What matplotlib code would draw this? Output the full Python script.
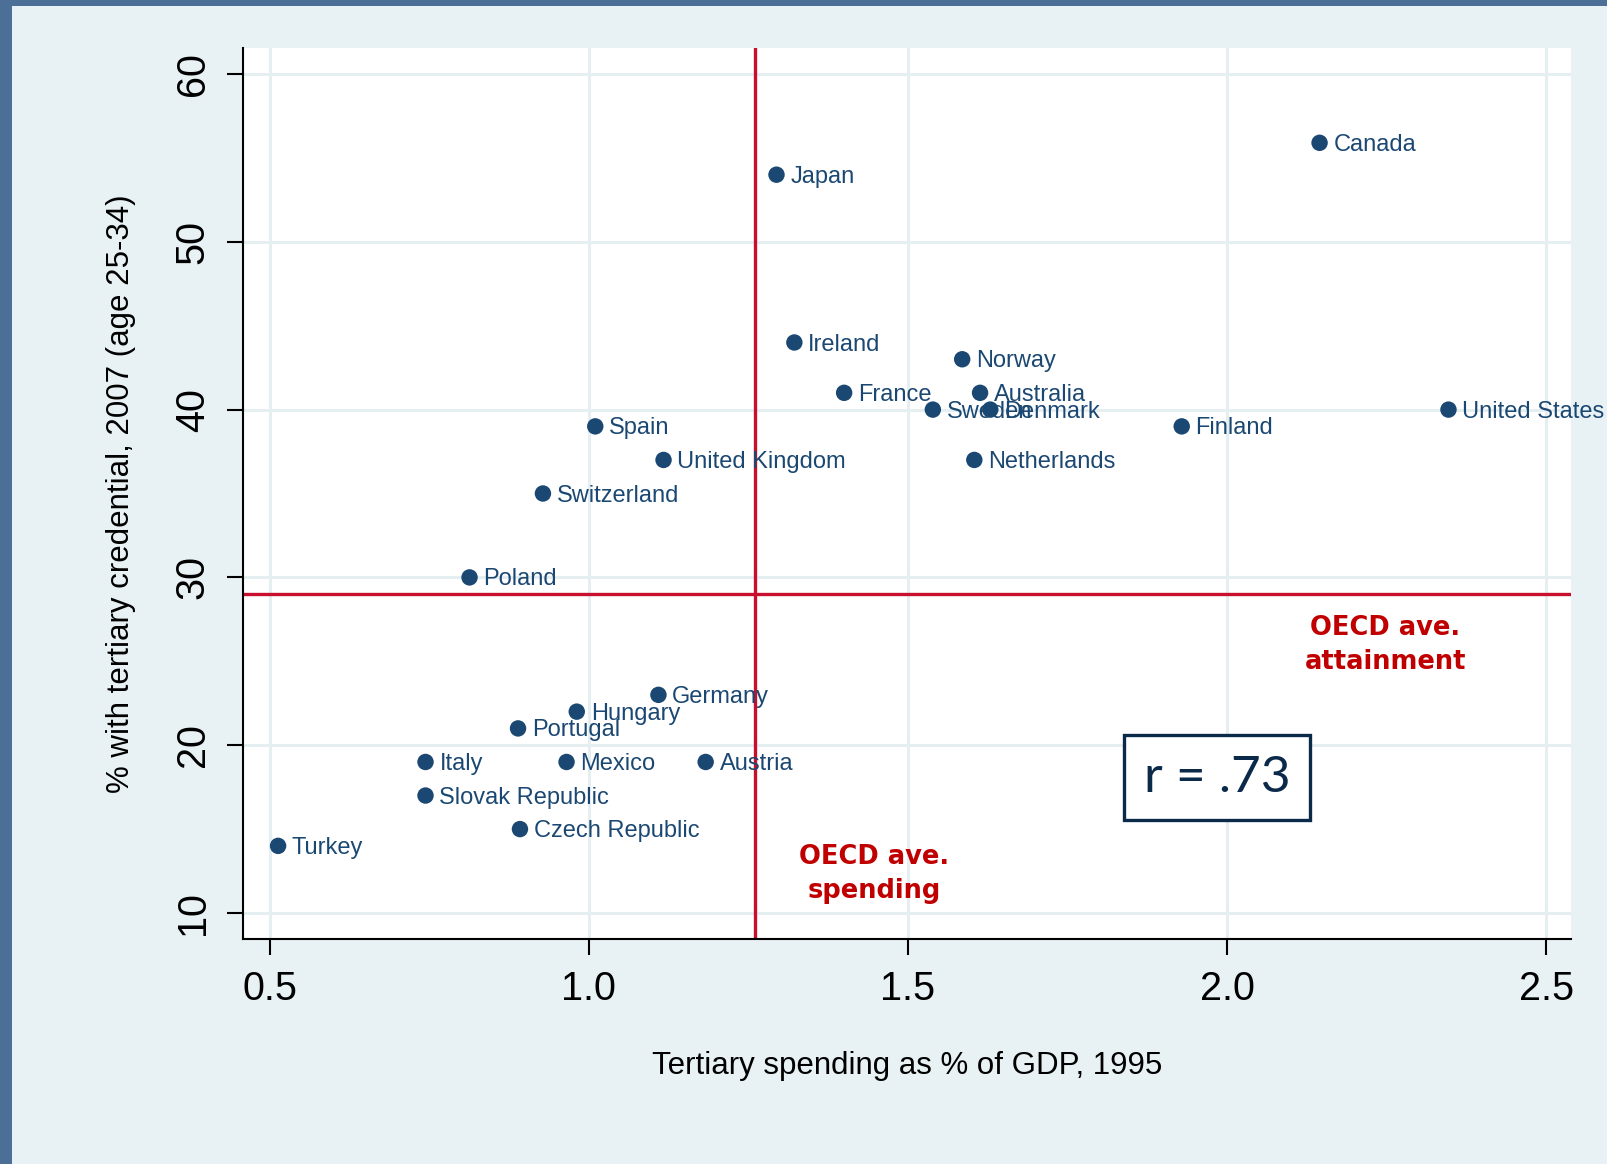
import matplotlib.pyplot as plt
from matplotlib.patches import Rectangle

# Datos: gasto terciario (% PIB, 1995) vs % con título terciario (25-34, 2007)
countries = ['Canada', 'Japan', 'Ireland', 'Norway', 'France', 'Australia',
             'Sweden', 'Denmark', 'Finland', 'United States', 'Spain',
             'United Kingdom', 'Netherlands', 'Switzerland', 'Poland',
             'Germany', 'Hungary', 'Portugal', 'Italy', 'Mexico', 'Austria',
             'Slovak Republic', 'Czech Republic', 'Turkey']
spending = [2.145, 1.294, 1.322, 1.585, 1.400, 1.613,
            1.539, 1.629, 1.929, 2.347, 1.010,
            1.117, 1.604, 0.928, 0.813,
            1.109, 0.981, 0.889, 0.744, 0.965, 1.183,
            0.744, 0.892, 0.513]
attainment = [55.9, 54, 44, 43, 41, 41,
              40, 40, 39, 40, 39,
              37, 37, 35, 30,
              23, 22, 21, 19, 19, 19,
              17, 15, 14]

oecd_spending = 1.26
oecd_attainment = 29

x_ticks = [0.5, 1.0, 1.5, 2.0, 2.5]
x_labels = ['0.5', '1.0', '1.5', '2.0', '2.5']
y_ticks = [10, 20, 30, 40, 50, 60]
y_labels = ['10', '20', '30', '40', '50', '60']

navy = '#1B4872'
red = '#C8102E'
bg = '#E8F1F3'
grid_col = '#E5EEF1'

fig = plt.figure(figsize=(16.08, 11.64), dpi=100, facecolor=bg)
ax = fig.add_axes([243 / 1608, 1 - 939 / 1164, (1571 - 243) / 1608, (939 - 48) / 1164])
ax.set_facecolor('white')

# borde azul de la plantilla
fig.patches.append(Rectangle((0, 0), 12 / 1608, 1, transform=fig.transFigure,
                             facecolor='#4C6F97', edgecolor='none', zorder=0))
fig.patches.append(Rectangle((0, 1 - 6 / 1164), 1, 6 / 1164, transform=fig.transFigure,
                             facecolor='#4C6F97', edgecolor='none', zorder=0))

ax.set_xlim(0.458, 2.539)
ax.set_ylim(8.45, 61.55)

ax.set_xticks(x_ticks)
ax.set_xticklabels(x_labels, fontsize=28.5, family='Liberation Sans')
ax.set_yticks(y_ticks)
ax.set_yticklabels(y_labels, fontsize=28.5, family='Liberation Sans',
                   rotation=90, va='center')
ax.tick_params(length=11.5, width=1.5, pad=11)

ax.grid(True, color=grid_col, linewidth=2.2)
ax.set_axisbelow(True)
for side in ['top', 'right']:
    ax.spines[side].set_visible(False)
for side in ['left', 'bottom']:
    ax.spines[side].set_linewidth(1.5)

# líneas de promedio OCDE
ax.axvline(oecd_spending, color=red, linewidth=2.4, zorder=2)
ax.axhline(oecd_attainment, color=red, linewidth=2.4, zorder=2)

ax.scatter(spending, attainment, s=140, color=navy, zorder=3, edgecolor='none')
for name, xv, yv in zip(countries, spending, attainment):
    ax.annotate(name, (xv, yv), xytext=(10, -1.5), textcoords='offset points',
                fontsize=17, color=navy, family='Liberation Sans',
                ha='left', va='center', zorder=4)

ax.text(2.248, 26.0, 'OECD ave.\nattainment', color='#C00000', fontsize=18.5,
        fontweight='bold', family='DejaVu Sans', ha='center', va='center',
        linespacing=1.4)
ax.text(1.447, 12.3, 'OECD ave.\nspending', color='#C00000', fontsize=18.5,
        fontweight='bold', family='DejaVu Sans', ha='center', va='center',
        linespacing=1.4)

ax.text(1.984, 18.05, 'r = .73', color='#0B2A4A', fontsize=37, family='Lato',
        ha='center', va='center',
        bbox=dict(boxstyle='square,pad=0.38', facecolor='white',
                  edgecolor='#0B2A4A', linewidth=2.4))

ax.set_xlabel('Tertiary spending as % of GDP, 1995', fontsize=22.5,
              family='Liberation Sans', labelpad=31)
ax.set_ylabel('% with tertiary credential, 2007 (age 25-34)', fontsize=22.5,
              family='Liberation Sans', labelpad=27)

fig.savefig('out.png', dpi=100, facecolor=bg)
